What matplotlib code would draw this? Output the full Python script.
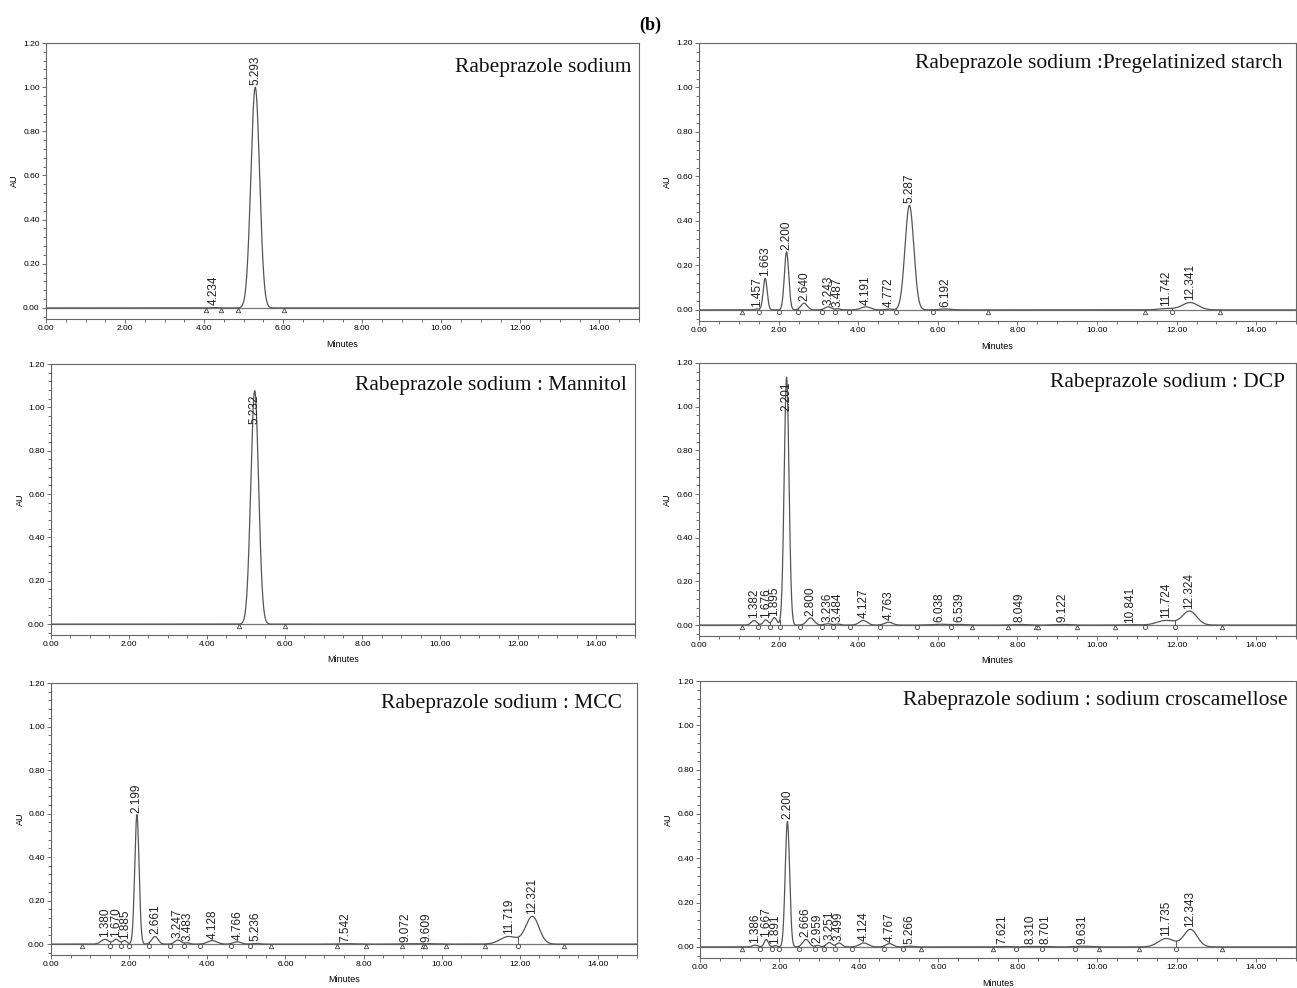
import numpy as np
import matplotlib.pyplot as plt
from matplotlib.ticker import MultipleLocator, FormatStrFormatter

# ---- peak tables ----
# retention time (min), apex height (AU), peak width (sigma, min)
rs_rt = [4.234, 5.293]
rs_h = [0.002, 1.000]
rs_w = [0.08, 0.11]
rs_tri = [4.04, 4.43, 4.86, 6.03]
rs_dot = []

pgs_rt = [1.457, 1.663, 2.200, 2.640, 3.243, 3.487, 4.191, 4.772, 5.287, 6.192, 11.742, 12.341]
pgs_h = [0.004, 0.142, 0.261, 0.030, 0.014, 0.005, 0.014, 0.004, 0.470, 0.004, 0.006, 0.033]
pgs_w = [0.06, 0.05, 0.055, 0.08, 0.08, 0.06, 0.12, 0.08, 0.11, 0.15, 0.2, 0.2]
pgs_tri = [1.08, 7.27, 11.21, 13.08]
pgs_dot = [1.52, 2.02, 2.49, 3.08, 3.42, 3.76, 4.57, 4.96, 5.87, 11.88]

man_rt = [5.232]
man_h = [1.077]
man_w = [0.10]
man_tri = [4.83, 6.02]
man_dot = []

dcp_rt = [1.382, 1.676, 1.895, 2.201, 2.800, 3.236, 3.484, 4.127, 4.763, 6.038, 6.539,
          8.049, 9.122, 10.841, 11.724, 12.324]
dcp_h = [0.021, 0.024, 0.034, 1.135, 0.033, 0.006, 0.005, 0.021, 0.013, 0.004, 0.003,
         0.003, 0.003, 0.002, 0.021, 0.064]
dcp_w = [0.07, 0.06, 0.06, 0.06, 0.09, 0.08, 0.07, 0.1, 0.1, 0.2, 0.15,
         0.2, 0.2, 0.2, 0.22, 0.18]
dcp_tri = [1.08, 6.86, 7.77, 8.47, 8.53, 9.51, 10.44, 13.13]
dcp_dot = [1.48, 1.78, 2.03, 2.55, 3.08, 3.37, 3.80, 4.55, 5.47, 6.32, 11.21, 11.95]

mcc_rt = [1.380, 1.670, 1.885, 2.199, 2.661, 3.247, 3.483, 4.128, 4.766, 5.236, 7.542,
          9.072, 9.609, 11.719, 12.321]
mcc_h = [0.022, 0.022, 0.016, 0.595, 0.035, 0.019, 0.006, 0.016, 0.011, 0.003, 0.002,
         0.002, 0.002, 0.035, 0.127]
mcc_w = [0.1, 0.07, 0.06, 0.055, 0.08, 0.08, 0.06, 0.12, 0.1, 0.1, 0.2,
         0.2, 0.2, 0.22, 0.17]
mcc_tri = [0.79, 5.63, 7.33, 8.06, 8.99, 9.53, 9.57, 10.12, 11.10, 13.14]
mcc_dot = [1.51, 1.78, 1.99, 2.52, 3.05, 3.41, 3.81, 4.61, 5.10, 11.95]

ccs_rt = [1.386, 1.667, 1.891, 2.200, 2.666, 2.959, 3.251, 3.499, 4.124, 4.767, 5.266,
          7.621, 8.310, 8.701, 9.631, 11.735, 12.343]
ccs_h = [0.008, 0.034, 0.006, 0.566, 0.034, 0.007, 0.020, 0.018, 0.018, 0.015, 0.003,
         0.002, 0.002, 0.002, 0.003, 0.038, 0.079]
ccs_w = [0.07, 0.05, 0.05, 0.055, 0.08, 0.06, 0.07, 0.07, 0.11, 0.09, 0.1,
         0.15, 0.15, 0.15, 0.2, 0.2, 0.17]
ccs_tri = [1.05, 5.57, 7.38, 10.05, 11.05, 13.15]
ccs_dot = [1.50, 1.80, 2.00, 2.49, 2.90, 3.11, 3.40, 3.83, 4.64, 5.12, 7.95, 8.60, 9.45, 11.97]

titles = ['Rabeprazole sodium',
          'Rabeprazole sodium :Pregelatinized starch',
          'Rabeprazole sodium : Mannitol',
          'Rabeprazole sodium : DCP',
          'Rabeprazole sodium : MCC',
          'Rabeprazole sodium : sodium croscamellose']

panels = [(rs_rt, rs_h, rs_w, rs_tri, rs_dot),
          (pgs_rt, pgs_h, pgs_w, pgs_tri, pgs_dot),
          (man_rt, man_h, man_w, man_tri, man_dot),
          (dcp_rt, dcp_h, dcp_w, dcp_tri, dcp_dot),
          (mcc_rt, mcc_h, mcc_w, mcc_tri, mcc_dot),
          (ccs_rt, ccs_h, ccs_w, ccs_tri, ccs_dot)]

# frame boxes in pixels (left, right, top, bottom) and title anchor (axes fraction)
W, H = 1297, 988
boxes = [(46, 639, 43, 319), (699, 1296, 43, 321),
         (51, 635, 364, 635), (699, 1296, 363, 636),
         (51, 637, 683, 955), (700, 1296, 681, 958)]
title_xy = [(0.987, 0.91), (0.978, 0.928), (0.986, 0.92),
            (0.982, 0.93), (0.974, 0.926), (0.986, 0.93)]

fig = plt.figure(figsize=(W / 100, H / 100), dpi=100)
fig.text(650 / W, 1 - 25 / H, '(b)', ha='center', va='center',
         fontsize=13, fontweight='bold', family='Liberation Serif')

tgrid = np.linspace(0, 15, 4000)
gray = '#555555'

for i, (rt, h, w, tri, dot) in enumerate(panels):
    l, r, t, b = boxes[i]
    ax = fig.add_axes([l / W, 1 - b / H, (r - l) / W, (b - t) / H])

    def trace(x):
        x = np.asarray(x, dtype=float)
        y = np.zeros_like(x)
        for p, hh, ww in zip(rt, h, w):
            y += hh * np.exp(-0.5 * ((x - p) / ww) ** 2)
        return y

    ax.axhline(0, color='#777777', lw=0.9, zorder=1)
    ax.plot(tgrid, trace(tgrid), color=gray, lw=0.9, zorder=2)

    # drop lines and integration markers
    for d in dot:
        ax.plot([d, d], [0, float(trace(d))], color=gray, lw=0.7, zorder=2)
    ax.plot(tri, [-0.008] * len(tri), ls='none', marker='^', ms=3.2,
            mfc='white', mec='#444444', mew=0.6, zorder=3)
    ax.plot(dot, [-0.008] * len(dot), ls='none', marker='o', ms=3.0,
            mfc='white', mec='#444444', mew=0.6, zorder=3)

    # retention time labels
    for p in rt:
        yp = float(trace(p))
        if yp > 1.05:
            ax.annotate('%.3f' % p, (p, yp), xytext=(0, -3), textcoords='offset points',
                        rotation=90, ha='center', va='top', fontsize=8.5,
                        family='Liberation Sans', color='#222222')
        else:
            ax.annotate('%.3f' % p, (p, yp), xytext=(0, 1.5), textcoords='offset points',
                        rotation=90, ha='center', va='bottom', fontsize=8.5,
                        family='Liberation Sans', color='#222222')

    ax.text(title_xy[i][0], title_xy[i][1], titles[i], transform=ax.transAxes,
            ha='right', va='center', fontsize=15.5, family='Liberation Serif',
            color='#111111')

    ax.set_xlim(0, 15)
    ax.set_ylim(-0.05, 1.2)
    ax.xaxis.set_major_locator(MultipleLocator(2))
    ax.xaxis.set_minor_locator(MultipleLocator(0.5))
    ax.yaxis.set_major_locator(MultipleLocator(0.2))
    ax.yaxis.set_minor_locator(MultipleLocator(0.04))
    ax.xaxis.set_major_formatter(FormatStrFormatter('%.2f'))
    ax.yaxis.set_major_formatter(FormatStrFormatter('%.2f'))
    ax.tick_params(which='both', direction='out', color='#555555', width=0.6,
                   labelsize=6, pad=1.5)
    ax.tick_params(which='major', length=3)
    ax.tick_params(which='minor', length=2)
    for lab in ax.get_xticklabels() + ax.get_yticklabels():
        lab.set_family('Liberation Sans')
    for s in ax.spines.values():
        s.set_color('#666666')
        s.set_linewidth(0.8)

    ax.set_xlabel('Minutes', fontsize=6.5, family='Liberation Sans')
    ax.set_ylabel('AU', fontsize=6.5, family='Liberation Sans')
    ax.xaxis.set_label_coords(0.5, -0.075)
    ax.yaxis.set_label_coords(-0.045, 0.5)

plt.savefig('out.png', dpi=100)
